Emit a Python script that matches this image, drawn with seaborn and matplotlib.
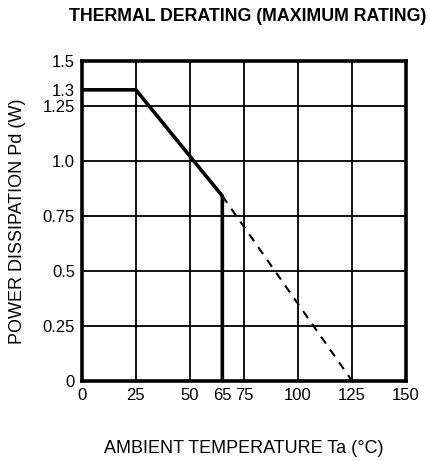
import matplotlib
matplotlib.use("Agg")
import matplotlib.pyplot as plt
import seaborn as sns
import pandas as pd
import numpy as np

# derating curve (solid) and its extension to zero (dashed)
temp_rated = [0, 25, 65, 65]
power_rated = [1.3, 1.3, 0.84, 0.0]
temp_ext = [65, 125]
power_ext = [0.84, 0.0]

x_ticks = [0, 25, 50, 65, 75, 100, 125, 150]
x_grid = [25, 50, 75, 100, 125]
y_ticks = [0, 0.25, 0.5, 0.75, 1.0, 1.25, 1.3, 1.5]
y_tick_labels = ["0", "0.25", "0.5", "0.75", "1.0", "1.25", "1.3", "1.5"]
y_grid = [0.25, 0.5, 0.75, 1.0, 1.25]

# the printed chart stretches the top of the y axis a little
y_knots = [0, 1.25, 1.3, 1.5]
y_pos = [0, 1.25, 1.3227, 1.4545]

def fwd(v):
    return np.interp(v, y_knots, y_pos)

def inv(p):
    return np.interp(p, y_pos, y_knots)

sns.set_style("white")
plt.rcParams["font.family"] = ["Liberation Sans", "DejaVu Sans"]
plt.rcParams["text.color"] = "black"

fig = plt.figure(figsize=(4.31, 4.61), dpi=100)
ax = fig.add_axes([0.19, 0.174, 0.752, 0.694])
ax.set_yscale("function", functions=(fwd, inv))

# grid drawn by hand so 65 gets a label but no grid line
for xv in x_grid:
    ax.axvline(xv, color="black", lw=1.3, zorder=1)
for yv in y_grid:
    ax.axhline(yv, color="black", lw=1.3, zorder=1)

df_rated = pd.DataFrame({"temp": temp_rated, "power": power_rated})
df_ext = pd.DataFrame({"temp": temp_ext, "power": power_ext})
sns.lineplot(data=df_rated, x="temp", y="power", sort=False, estimator=None,
             color="black", lw=2.6, ax=ax, zorder=3)
sns.lineplot(data=df_ext, x="temp", y="power", sort=False, estimator=None,
             color="black", lw=1.5, ax=ax, zorder=3)
ax.lines[-1].set_dashes([4, 3.5])

ax.set_xlim(0, 150)
ax.set_ylim(0, 1.5)
ax.set_xticks(x_ticks)
ax.set_xticklabels([str(t) for t in x_ticks])
ax.set_yticks(y_ticks)
ax.set_yticklabels(y_tick_labels)
ax.minorticks_off()
ax.tick_params(axis="both", length=0, labelsize=12, colors="black", pad=5)
for s in ax.spines.values():
    s.set_linewidth(2.6)
    s.set_color("black")

ax.set_xlabel("AMBIENT TEMPERATURE Ta (°C)", fontsize=13, labelpad=27,
              color="black")
ax.set_ylabel("POWER DISSIPATION Pd (W)", fontsize=13, labelpad=12,
              color="black")
fig.text(0.575, 0.965, "THERMAL DERATING (MAXIMUM RATING)", fontsize=12.8,
         fontweight="heavy", ha="center", va="center")

plt.savefig("out.png", dpi=100)
plt.close()
